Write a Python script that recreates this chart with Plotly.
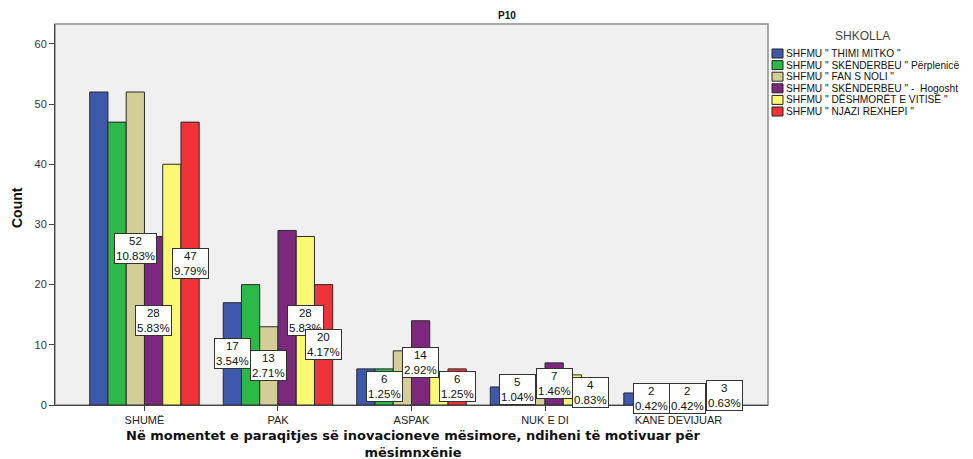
import plotly.graph_objects as go
from decimal import Decimal, ROUND_HALF_UP

# ---------------- data ----------------
categories = ["SHUMË", "PAK", "ASPAK", "NUK E DI", "KANE DEVIJUAR"]
schools = [
    'SHFMU " THIMI MITKO "',
    'SHFMU " SKËNDERBEU " Përplenicë',
    'SHFMU " FAN S NOLI "',
    'SHFMU " SKËNDERBEU " -  Hogosht',
    'SHFMU " DËSHMORËT E VITISË "',
    'SHFMU " NJAZI REXHEPI "',
]
thimi_mitko = [52, 17, 6, 3, 2]
skenderbeu_perplenice = [47, 20, 6, 5, 2]
fan_s_noli = [52, 13, 9, 5, 1]
skenderbeu_hogosht = [28, 29, 14, 7, 2]
deshmoret_e_vitise = [40, 28, 5, 5, 2]
njazi_rexhepi = [47, 20, 6, 4, 3]
series = [thimi_mitko, skenderbeu_perplenice, fan_s_noli,
          skenderbeu_hogosht, deshmoret_e_vitise, njazi_rexhepi]
total_n = 480
# bars that carry a count / percent label: (school index, category index)
labelled = [(2, 0), (3, 0), (5, 0),
            (0, 1), (2, 1), (4, 1), (5, 1),
            (1, 2), (3, 2), (5, 2),
            (1, 3), (3, 3), (5, 3),
            (1, 4), (3, 4), (5, 4)]
y_ticks = [0, 10, 20, 30, 40, 50, 60]

# ---------------- style ----------------
colors = ["#3E58AC", "#2EB848", "#D3CE97", "#7B287D", "#FBF873", "#EF3338"]
FONT = "Arial, Liberation Sans, sans-serif"
WIDE = "DejaVu Sans, Arial, sans-serif"
W, H = 973, 459
L, R, T, B = 55, 768, 24, 405          # plot area in px
BARGAP = 0.18

def px_x(p):
    return (p - L) / (R - L)

def px_y(p):
    return (B - p) / (B - T)

fig = go.Figure()
xs = list(range(len(categories)))
for name, vals, col in zip(schools, series, colors):
    fig.add_trace(go.Bar(
        x=xs, y=vals, name=name,
        marker=dict(color=col, line=dict(color="#2b2b2b", width=1)),
        showlegend=False, hoverinfo="y+name",
    ))

def pct(v):
    d = (Decimal(v) * Decimal(100) / Decimal(total_n)).quantize(Decimal("0.01"), rounding=ROUND_HALF_UP)
    return f"{d}%"

annotations = []
n = len(schools)
bw = (1 - BARGAP) / n
for (j, i) in labelled:
    v = series[j][i]
    annotations.append(dict(
        x=i + (j - (n - 1) / 2) * bw, y=v / 2, xref="x", yref="y",
        text=f"{v}<br>{pct(v)}", showarrow=False,
        font=dict(family=FONT, size=11.5, color="#111"),
        bgcolor="white", bordercolor="#333", borderwidth=1, borderpad=1,
        xanchor="center", yanchor="middle",
    ))

# title
annotations.append(dict(
    x=px_x(507), y=px_y(15), xref="paper", yref="paper", text="<b>P10</b>",
    showarrow=False, font=dict(family=FONT, size=10, color="#111"),
    xanchor="center", yanchor="middle"))
# x-axis title
annotations.append(dict(
    x=px_x(413), y=px_y(444), xref="paper", yref="paper",
    text="<b>Në momentet e paraqitjes së inovacioneve mësimore, ndiheni të motivuar për<br>mësimnxënie</b>",
    showarrow=False, font=dict(family=WIDE, size=13, color="#111"),
    xanchor="center", yanchor="middle"))
# y-axis title
annotations.append(dict(
    x=px_x(17), y=px_y(208), xref="paper", yref="paper", text="<b>Count</b>",
    textangle=-90, showarrow=False, font=dict(family=FONT, size=14, color="#111"),
    xanchor="center", yanchor="middle"))

# custom legend
annotations.append(dict(
    x=px_x(862), y=px_y(36), xref="paper", yref="paper", text="SHKOLLA",
    showarrow=False, font=dict(family=FONT, size=12, color="#444"),
    xanchor="center", yanchor="middle"))
shapes = []
for k, (name, col) in enumerate(zip(schools, colors)):
    yc = 53.5 + 11.6 * k
    shapes.append(dict(type="rect", xref="paper", yref="paper",
                       x0=px_x(772), x1=px_x(783), y0=px_y(yc + 4.5), y1=px_y(yc - 4.5),
                       fillcolor=col, line=dict(color="#222", width=1)))
    annotations.append(dict(
        x=px_x(785), y=px_y(yc), xref="paper", yref="paper", text=name,
        showarrow=False, font=dict(family=FONT, size=10.2, color="#111"),
        borderpad=0, xanchor="left", yanchor="middle"))

# frame of the plot area
shapes.append(dict(type="rect", xref="paper", yref="paper", x0=0, x1=1, y0=0, y1=1,
                   line=dict(color="#8c8c8c", width=1.5), fillcolor="rgba(0,0,0,0)",
                   layer="below"))

fig.update_layout(
    width=W, height=H,
    margin=dict(l=L, r=W - R, t=T, b=H - B, pad=0),
    paper_bgcolor="white", plot_bgcolor="#F0F0F0",
    barmode="group", bargap=BARGAP, bargroupgap=0,
    font=dict(family=FONT, size=10, color="#222"),
    annotations=annotations, shapes=shapes,
    showlegend=False,
    xaxis=dict(
        tickvals=xs, ticktext=categories, range=[-0.67, 4.67],
        showgrid=False, zeroline=False, showline=True, linecolor="#444", linewidth=1,
        ticks="outside", ticklen=5, tickcolor="#444",
        tickfont=dict(family=FONT, size=11, color="#222"),
    ),
    yaxis=dict(
        range=[0, 63.3], tickvals=y_ticks, showgrid=False, zeroline=False,
        showline=True, linecolor="#444", linewidth=1,
        ticks="outside", ticklen=5, tickcolor="#444",
        tickfont=dict(family=FONT, size=11, color="#333"),
    ),
)

fig.write_html("out.html", config={"displayModeBar": False},
               post_script="document.body.style.margin='0';document.body.style.overflow='hidden';")
